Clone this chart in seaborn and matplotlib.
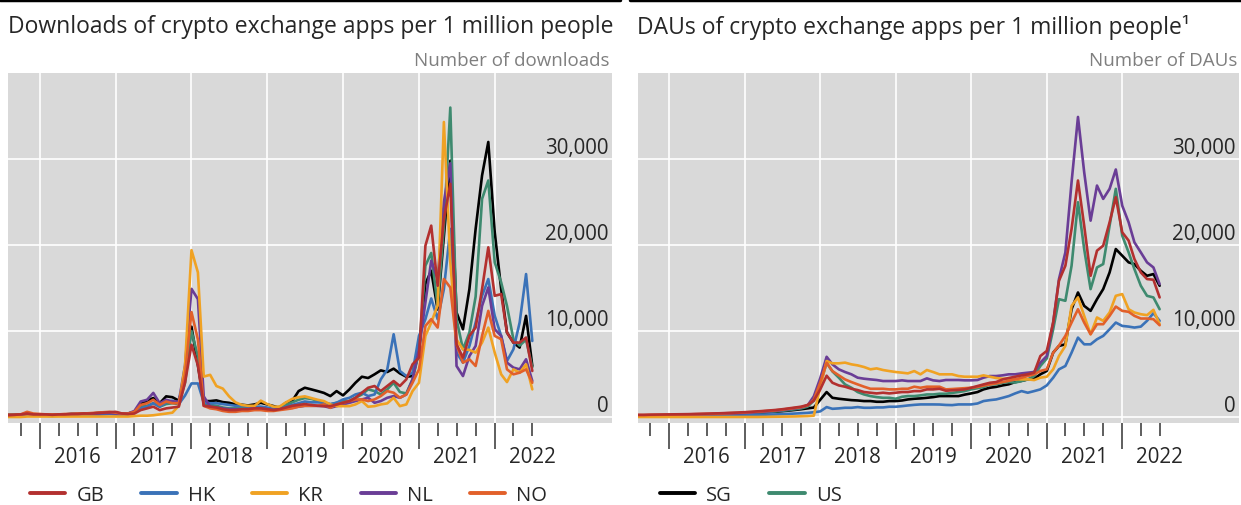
import pandas as pd
import matplotlib
matplotlib.use("Agg")
import matplotlib.pyplot as plt
import matplotlib.dates as mdates
import matplotlib.ticker as mticker
import matplotlib.transforms as mtransforms
from matplotlib.lines import Line2D
import seaborn as sns

# monthly observations, Aug 2015 - Jul 2022
months = pd.date_range("2015-08-01", "2022-07-01", freq="MS")
countries = ["GB", "HK", "KR", "NL", "NO", "SG", "US"]
colors = {"GB": "#b3302f", "HK": "#3a72b8", "KR": "#f0a223", "NL": "#6a3d96",
          "NO": "#e2602a", "SG": "#000000", "US": "#3e8a6f"}
years = [2016, 2017, 2018, 2019, 2020, 2021, 2022]
y_ticks = [0, 10000, 20000, 30000]

# downloads of crypto exchange apps per 1 million people
dl_gb = [200, 250, 300, 400, 300, 300, 300, 250, 300, 300, 350, 350, 400, 400, 450, 500, 550,
         600, 400, 350, 400, 800, 1000, 1200, 800, 1000, 1100, 1200, 4000,
         8400, 6000, 1300,
         1200, 1100, 900, 800, 800, 900, 900, 1000, 1000, 900, 800, 900, 1100, 1300, 1400, 1500, 1400, 1300,
         1260, 1260, 1450, 1650, 1850, 2230, 2820, 3400, 3600, 3010, 3600, 4180, 3600, 4370, 6120,
         6900, 19920, 22250, 15260, 23030, 27110, 8450, 6900, 9430, 10400, 14870, 19730, 14090, 14290,
         9820, 8650, 8650, 9240, 5350]
dl_hk = [100, 100, 150, 200, 150, 150, 150, 100, 150, 150, 200, 200, 200, 250, 250, 300, 350,
         300, 250, 300, 500, 1000, 1200, 1600, 1200, 1700, 1900, 1500, 2500,
         3900, 3900, 1700,
         1600, 1600, 1500, 1400, 1300, 1300, 1200, 1200, 1200, 1100, 900, 900, 1200, 1400, 1600, 1800, 1700, 1700,
         1650, 1500, 1650, 2040, 2230, 2620, 2820, 2430, 2620, 4370, 5500, 9620, 5350, 4760, 5150,
         9430, 11370, 13780, 11370, 14870, 21870, 7480, 6320, 8260, 10980, 14090, 16040, 11760, 9430,
         6510, 7870, 10980, 16620, 8840]
dl_kr = [0, 0, 0, 50, 50, 50, 50, 50, 50, 50, 50, 50, 50, 50, 50, 50, 50,
         50, 50, 50, 100, 150, 150, 200, 300, 400, 500, 1300, 6000,
         19400, 16800, 4700,
         4900, 3600, 3300, 2400, 1700, 1400, 1300, 1300, 1900, 1500, 1200, 1200, 1700, 2100, 2300, 2400, 2200, 2000,
         1850, 1460, 1260, 1260, 1260, 1460, 1850, 1190, 1260, 1460, 1580, 2230, 1260, 1460, 3010,
         3980, 9430, 10980, 13000, 34300, 18000, 9000, 7870, 7800, 7480, 8650, 10400, 7480, 4960,
         4060, 5540, 5150, 6120, 3210]
dl_nl = [200, 200, 250, 300, 250, 250, 250, 200, 250, 300, 300, 300, 350, 400, 400, 450, 450,
         400, 350, 400, 700, 1800, 2000, 2800, 1600, 2000, 1800, 1800, 6000,
         14900, 13700, 2400,
         1200, 1100, 1000, 900, 900, 900, 900, 1000, 1000, 900, 800, 900, 1000, 1100, 1200, 1300, 1300, 1300,
         1260, 1070, 1260, 1460, 1650, 1850, 2040, 2230, 1650, 1850, 2230, 2430, 2230, 2620, 4370,
         7870, 13310, 18170, 16040, 25000, 29500, 5930, 4760, 7090, 8260, 12920, 15060, 10200, 9430,
         6320, 5740, 5540, 6710, 4180]
dl_no = [250, 250, 300, 600, 400, 350, 300, 300, 300, 350, 350, 400, 400, 450, 500, 550, 600,
         500, 400, 400, 600, 1400, 1600, 2000, 1400, 1800, 1600, 1600, 5000,
         12200, 9000, 1300,
         1000, 900, 700, 600, 600, 700, 700, 800, 800, 700, 700, 800, 900, 1000, 1200, 1300, 1300, 1300,
         1460, 1070, 1460, 1650, 1850, 2040, 2040, 1850, 2040, 2430, 3010, 2820, 2230, 2620, 3980,
         5540, 10590, 11370, 10400, 16040, 15060, 8450, 6320, 6710, 5930, 9430, 12340, 9430, 9040,
         5540, 4960, 5150, 5540, 3980]
dl_sg = [250, 250, 300, 350, 300, 300, 300, 250, 300, 300, 350, 350, 400, 400, 450, 500, 500,
         450, 400, 400, 600, 1500, 1900, 2200, 1600, 2400, 2300, 1900, 4500,
         10500, 6000, 1850,
         1850, 1930, 1730, 1650, 1460, 1420, 1340, 1460, 1650, 1460, 1260, 1070, 1650, 1850, 3010, 3400, 3210, 3010,
         2800, 2430, 3010, 2510, 3210, 3980, 4680, 4530, 4960, 5420, 5230, 5620, 5070, 4680, 4760,
         7500, 15500, 17000, 12500, 21000, 29800, 12150, 10200, 14870, 21870, 28090, 31980, 21480, 14870,
         9820, 8650, 8070, 11760, 5930]
dl_us = [150, 150, 200, 250, 200, 200, 200, 200, 250, 250, 250, 300, 300, 350, 350, 400, 400,
         350, 300, 350, 500, 1200, 1300, 1600, 1200, 1500, 1600, 1500, 4000,
         10000, 7000, 1500,
         1400, 1300, 1100, 1000, 1000, 1000, 1000, 1100, 1100, 1000, 900, 1200, 1400, 1700, 2000, 2200, 2100, 1900,
         1650, 1460, 1650, 1850, 1850, 2230, 2620, 3210, 3010, 2620, 3210, 3980, 2900, 2740, 4370,
         7480, 17590, 19070, 12920, 22000, 35980, 11370, 7870, 9820, 14000, 25360, 27500, 17980, 15650,
         12920, 9040, 8300, 9000, 5800]

# daily active users of crypto exchange apps per 1 million people
dau_gb = [250, 250, 270, 280, 290, 300, 310, 320, 330, 350, 370, 390, 410, 430, 460, 490, 520,
          560, 600, 650, 700, 760, 820, 900, 1000, 1100, 1200, 1400, 1900,
          3200, 4800, 3980,
          3670, 3520, 3280, 3130, 2900, 2820, 2740, 2820, 2740, 2820, 2900, 2900, 3010, 3010, 3210, 3210, 3280, 3050,
          3100, 3150, 3210, 3400, 3600, 3790, 3980, 4060, 4370, 4530, 4680, 4840, 4960, 5150, 7090,
          7680, 11000, 15840, 17590, 21870, 27500, 22250, 16420, 19340, 19920, 22640, 25560, 21480, 20510,
          18370, 16810, 16040, 15960, 13900]
dau_hk = [50, 50, 60, 60, 70, 70, 80, 80, 90, 100, 110, 120, 130, 140, 150, 160, 180,
          200, 220, 240, 260, 280, 300, 330, 360, 400, 440, 480, 550,
          650, 1150, 950,
          1000, 1070, 1070, 1150, 1070, 1070, 1110, 1110, 1190, 1190, 1260, 1340, 1410, 1460, 1460, 1460, 1450, 1400,
          1380, 1460, 1460, 1460, 1570, 1850, 1960, 2040, 2230, 2430, 2740, 3010, 2820, 3010, 3210,
          3670, 4570, 5540, 5930, 7480, 9230, 8450, 8450, 9040, 9430, 10200, 10980, 10590, 10510,
          10400, 10510, 11180, 12070, 11180]
dau_kr = [0, 0, 0, 0, 0, 0, 0, 0, 0, 0, 0, 0, 0, 0, 0, 0, 0,
          0, 0, 0, 10, 20, 30, 40, 50, 60, 80, 100, 150,
          3500, 6500, 6240,
          6240, 6320, 6120, 6000, 5810, 5540, 5650, 5460, 5340, 5230, 5150, 5070, 5340, 4960, 5460, 5230, 4960, 4960,
          4960, 4760, 4680, 4680, 4680, 4840, 4680, 4530, 4450, 4450, 4370, 4370, 4370, 4290, 4570,
          4680, 5540, 7090, 8260, 12920, 13900, 11760, 9620, 11570, 11180, 12150, 14090, 14290, 12530,
          12150, 11950, 11840, 12460, 10790]
dau_nl = [150, 150, 170, 180, 190, 200, 210, 220, 240, 260, 280, 300, 320, 340, 370, 400, 430,
          470, 510, 560, 610, 660, 720, 800, 900, 1000, 1100, 1350, 2400,
          4500, 7000, 6120,
          5540, 5230, 4960, 4570, 4450, 4370, 4300, 4180, 4180, 4180, 4260, 4180, 4180, 4180, 4490, 4260, 4180, 4300,
          4300, 4300, 4260, 4260, 4300, 4570, 4760, 4760, 4840, 4960, 4960, 5070, 5150, 5230, 6320,
          7090, 10980, 16030, 19140, 27310, 34890, 28470, 22830, 26910, 25360, 26530, 28780, 24580, 22640,
          20310, 19140, 17980, 17390, 15450]
dau_no = [220, 220, 240, 250, 260, 270, 280, 290, 300, 320, 340, 360, 380, 400, 430, 460, 490,
          530, 570, 620, 670, 720, 780, 850, 950, 1050, 1150, 1350, 2000,
          4000, 6300, 5340,
          4840, 4370, 4060, 3790, 3520, 3280, 3280, 3280, 3210, 3210, 3280, 3280, 3520, 3400, 3520, 3520, 3520, 3210,
          3250, 3300, 3350, 3400, 3500, 3650, 3790, 3900, 4060, 4200, 4370, 4560, 4760, 4960, 5350,
          5540, 7480, 8300, 9430, 10980, 12530, 10980, 9620, 10790, 10790, 11760, 12840, 12340, 12230,
          11760, 11450, 11450, 11370, 10670]
dau_sg = [100, 100, 110, 120, 130, 140, 150, 160, 170, 190, 210, 230, 250, 270, 300, 330, 360,
          390, 430, 470, 510, 560, 610, 670, 740, 820, 900, 1000, 1100,
          2000, 2900, 2230,
          2120, 2040, 1960, 1920, 1850, 1850, 1770, 1770, 1850, 1850, 1920, 2040, 2120, 2160, 2230, 2310, 2430, 2430,
          2430, 2430, 2600, 2740, 2900, 3210, 3400, 3500, 3670, 3800, 4060, 4200, 4370, 4450, 4960,
          5350, 7480, 8260, 8450, 12530, 14480, 12920, 12340, 13700, 14870, 16810, 19530, 18760, 17980,
          17780, 17000, 16420, 16620, 15260]
dau_us = [120, 120, 140, 150, 160, 170, 180, 190, 200, 220, 240, 260, 280, 300, 330, 360, 390,
          420, 460, 500, 550, 600, 650, 720, 800, 900, 1000, 1200, 1900,
          3800, 6300, 5300,
          4570, 3790, 3400, 2900, 2620, 2430, 2310, 2230, 2230, 2120, 2350, 2430, 2430, 2510, 2620, 2620, 2700, 2700,
          2800, 2900, 3010, 3210, 3350, 3480, 3790, 3790, 3980, 4060, 4000, 4180, 4370, 4760, 5930,
          6800, 10200, 13700, 13510, 17590, 24970, 19530, 14870, 17390, 17780, 22250, 26530, 21090, 19140,
          17200, 15260, 14090, 13900, 12530]

downloads = dict(zip(countries, [dl_gb, dl_hk, dl_kr, dl_nl, dl_no, dl_sg, dl_us]))
daus = dict(zip(countries, [dau_gb, dau_hk, dau_kr, dau_nl, dau_no, dau_sg, dau_us]))


def to_long(series):
    frames = [pd.DataFrame({"date": months, "country": c, "value": v}) for c, v in series.items()]
    return pd.concat(frames, ignore_index=True)


sns.set_style("darkgrid", {"axes.facecolor": "#d9d9d9", "grid.color": "white"})
plt.rcParams["font.family"] = ["Open Sans", "DejaVu Sans"]

W, H = 1241, 506
fig = plt.figure(figsize=(W / 100, H / 100), dpi=100)
ax1 = fig.add_axes([8 / W, 82 / H, 604 / W, 350 / H])
ax2 = fig.add_axes([637.5 / W, 82 / H, 601.5 / W, 350 / H])

draw_order = ["SG", "US", "HK", "NL", "KR", "NO", "GB"]
# tick marks stop with the data: long ones at each January, short ones every quarter
year_ticks = mdates.date2num([pd.Timestamp(f"{y}-01-01") for y in years])
quarter_ticks = mdates.date2num(pd.date_range("2015-10-01", "2022-07-01", freq="QS-JAN"))

for ax, series in [(ax1, downloads), (ax2, daus)]:
    sns.lineplot(data=to_long(series), x="date", y="value", hue="country",
                 hue_order=draw_order, palette=colors, linewidth=1.9, legend=False, ax=ax)
    ax.set_xlabel("")
    ax.set_ylabel("")
    ax.set_ylim(-700, 40000)
    ax.set_xlim(pd.Timestamp("2015-08-01"), pd.Timestamp("2023-07-20"))
    ax.set_yticks(y_ticks)
    ax.tick_params(axis="y", left=False, labelleft=False)
    ax.xaxis.set_major_locator(mticker.FixedLocator(year_ticks))
    ax.xaxis.set_minor_locator(mticker.FixedLocator(quarter_ticks))
    ax.tick_params(axis="x", which="major", bottom=True, length=19, width=1.1,
                   color="#333333", labelbottom=False, direction="out")
    ax.tick_params(axis="x", which="minor", bottom=True, length=9, width=1.1,
                   color="#333333", direction="out")
    ax.grid(True, which="major", color="white", linewidth=1.2)
    ax.grid(False, which="minor")
    for s in ax.spines.values():
        s.set_visible(False)
    # year labels centred between the long ticks
    trans_x = mtransforms.blended_transform_factory(ax.transData, ax.transAxes)
    for y in years:
        ax.text(mdates.date2num(pd.Timestamp(f"{y}-07-01")), -0.095, str(y),
                transform=trans_x, ha="center", va="center", fontsize=14.8)
    # value labels sit inside the plot, just above each gridline
    trans_y = mtransforms.offset_copy(
        mtransforms.blended_transform_factory(ax.transAxes, ax.transData), fig=fig, y=1, units="points")
    for v in y_ticks:
        ax.text(0.994, v, f"{v:,}", transform=trans_y, ha="right", va="bottom", fontsize=14.8)

# titles and units
fig.text(8 / W, 1 - 27 / H, "Downloads of crypto exchange apps per 1 million people",
         ha="left", va="center", fontsize=16.5)
fig.text(610 / W, 1 - 61 / H, "Number of downloads", ha="right", va="center",
         fontsize=13.5, color="#7f7f7f")
fig.text(637 / W, 1 - 27 / H, "DAUs of crypto exchange apps per 1 million people\u00b9",
         ha="left", va="center", fontsize=16.5)
fig.text(1237 / W, 1 - 61 / H, "Number of DAUs", ha="right", va="center",
         fontsize=13.5, color="#7f7f7f")

# black rules on top of each panel
fig.add_artist(Line2D([0, 620 / W], [1 - 1 / H, 1 - 1 / H], color="black", lw=2.5))
fig.add_artist(Line2D([630 / W, 1], [1 - 1 / H, 1 - 1 / H], color="black", lw=2.5))


# legends
def handles(names):
    return [Line2D([0], [0], color=colors[n], lw=2.8) for n in names]


left_names = ["GB", "HK", "KR", "NL", "NO"]
right_names = ["SG", "US"]
legend_style = dict(loc="center left", frameon=False, fontsize=14.5, handlelength=1.75,
                    handletextpad=0.55, columnspacing=1.85, borderaxespad=0, borderpad=0.2)
fig.legend(handles(left_names), left_names, bbox_to_anchor=(26 / W, 10 / H), ncol=5, **legend_style)
fig.legend(handles(right_names), right_names, bbox_to_anchor=(656 / W, 10 / H), ncol=2, **legend_style)

fig.savefig("out.png", dpi=100)
